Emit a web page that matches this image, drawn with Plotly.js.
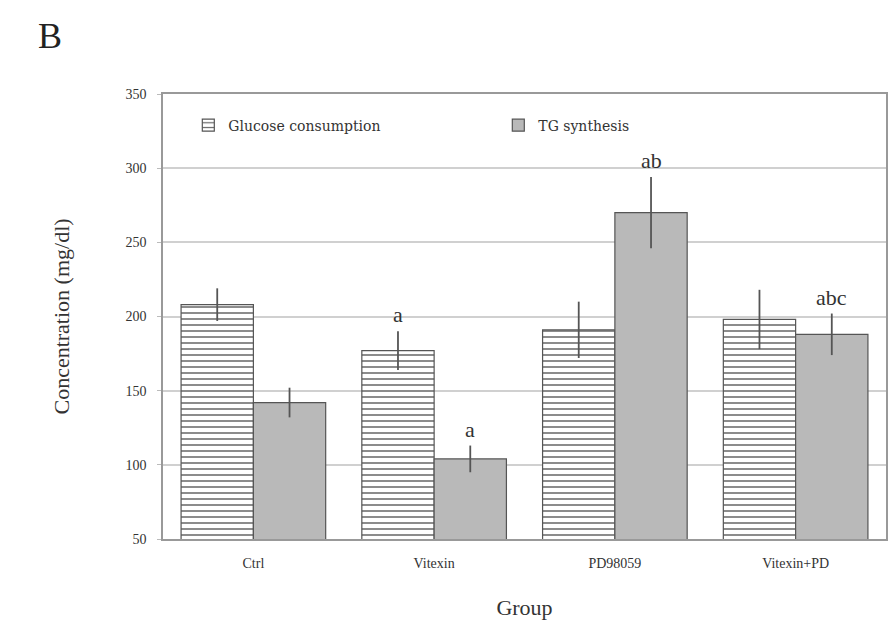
<!DOCTYPE html>
<html><head><meta charset="utf-8">
<script src="https://cdn.plot.ly/plotly-3.0.1.min.js"></script>
<style>body{margin:0;background:#fff}#c{width:888px;height:637px}</style>
</head><body><div id="c"></div>
<script>
const groups = ['Ctrl', 'Vitexin', 'PD98059', 'Vitexin+PD'];
const glucose = [208, 177, 191, 198];
const glucoseErr = [11, 13, 19, 20];
const tg = [142, 104, 270, 188];
const tgErr = [10, 9, 24, 14];
const glucoseLabels = ['', 'a', '', ''];
const tgLabels = ['', 'a', 'ab', 'abc'];
const yTicks = [50, 100, 150, 200, 250, 300, 350];

const serif = 'Liberation Serif, DejaVu Serif, serif';
const traces = [
  {type:'bar', name:'Glucose consumption', x:groups, y:glucose,
   marker:{color:'#ffffff', line:{color:'#555', width:1.2},
     pattern:{shape:'-', size:6, solidity:0.25, fgcolor:'#666', bgcolor:'#fff'}},
   error_y:{type:'data', array:glucoseErr, visible:true, color:'#555', thickness:1.8, width:0}},
  {type:'bar', name:'TG synthesis', x:groups, y:tg,
   marker:{color:'#b9b9b9', line:{color:'#555', width:1.2}},
   error_y:{type:'data', array:tgErr, visible:true, color:'#555', thickness:1.8, width:0}}
];
const annotations = [];
groups.forEach((g,i)=>{
  if (glucoseLabels[i]) annotations.push({x:i-0.2, y:glucose[i]+glucoseErr[i], xref:'x', yref:'y', text:glucoseLabels[i], showarrow:false, yanchor:'bottom', yshift:2, font:{family:serif, size:22, color:'#333'}});
  if (tgLabels[i]) annotations.push({x:i+0.2, y:tg[i]+tgErr[i], xref:'x', yref:'y', text:tgLabels[i], showarrow:false, yanchor:'bottom', yshift:2, font:{family:serif, size:22, color:'#333'}});
});
annotations.push({x:-0.175, y:1.08, xref:'paper', yref:'paper', xanchor:'left', yanchor:'bottom', text:'B', showarrow:false, font:{family:serif, size:36, color:'#222'}});

const layout = {
  width:888, height:637,
  margin:{l:163, r:2, t:94, b:98},
  paper_bgcolor:'#fff', plot_bgcolor:'#fff',
  barmode:'group', bargap:0.2, bargroupgap:0,
  font:{family:serif, color:'#333'},
  showlegend:true,
  legend:{orientation:'h', x:0.035, y:0.965, xanchor:'left', yanchor:'top', font:{family:'DejaVu Serif, serif', size:14, color:'#333'}, bgcolor:'rgba(0,0,0,0)', itemwidth:30, entrywidth:265},
  xaxis:{type:'category', showline:true, linecolor:'#999', linewidth:1.5, mirror:true, ticks:'', ticklabelstandoff:10, tickfont:{family:serif, size:14, color:'#333'},
    title:{text:'Group', font:{family:serif, size:22, color:'#333'}, standoff:30}},
  yaxis:{range:[50,350], tickvals:yTicks, showline:true, linecolor:'#999', linewidth:1.5, mirror:true,
    showgrid:true, gridcolor:'#d0d0d0', gridwidth:1.5, ticks:'outside', ticklen:4, tickcolor:'#bbb', ticklabelstandoff:8,
    tickfont:{family:serif, size:14, color:'#333'},
    title:{text:'Concentration (mg/dl)', font:{family:serif, size:22, color:'#333'}, standoff:50}},
  annotations:annotations
};
Plotly.newPlot('c', traces, layout, {displayModeBar:false});
</script></body></html>
